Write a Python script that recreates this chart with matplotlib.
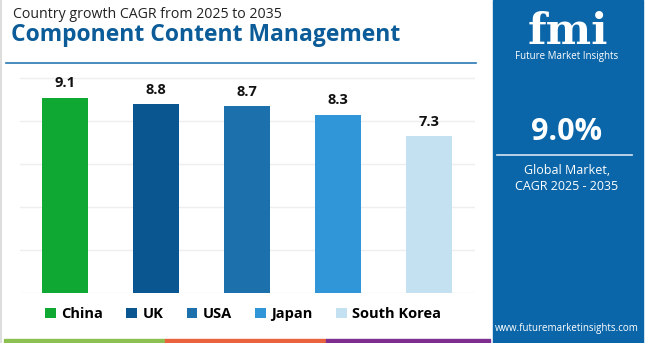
import matplotlib.pyplot as plt
from matplotlib.patches import Rectangle, Patch

countries = ['China', 'UK', 'USA', 'Japan', 'South Korea']
cagr = [9.1, 8.8, 8.7, 8.3, 7.3]
colors = ['#0fa833', '#0a5690', '#1c70ab', '#3196d7', '#c4e1f2']

W, H = 650, 343
fig = plt.figure(figsize=(W / 100, H / 100), dpi=100)
fig.patch.set_facecolor('white')


def fx(px):
    return px / W


def fy(py):
    return 1 - py / H


font = 'Open Sans'

# titles
fig.text(fx(13), fy(15), 'Country growth CAGR from 2025 to 2035', fontsize=10.2,
         color='#222222', family=font, va='center', ha='left')
fig.text(fx(11), fy(35), 'Component Content Management', fontsize=16.5, fontweight='bold',
         color='#0b5c98', family=font, va='center', ha='left')
fig.add_artist(plt.Line2D([fx(6), fx(476)], [fy(63), fy(63)], color='#2a78b5', lw=1.2))
fig.add_artist(plt.Line2D([fx(1), fx(1)], [0, 1], color='#dddddd', lw=1.5))

# bar chart
ax = fig.add_axes([fx(19.5), fy(293), fx(455), 10.5 * 21.46 / H])
x = list(range(len(countries)))
ax.bar(x, cagr, width=0.5, color=colors, zorder=3)
for xi, v in zip(x, cagr):
    ax.text(xi, v + 0.35, f'{v}', ha='center', va='bottom', fontsize=10.5,
            fontweight='bold', family=font, color='#111111')
ax.set_xlim(-0.5, 4.5)
ax.set_ylim(0, 10.5)
ax.set_yticks([0, 2, 4, 6, 8, 10])
ax.grid(axis='y', color='#eeeeee', lw=1, zorder=0)
ax.set_xticks([])
ax.tick_params(left=False, labelleft=False)
for s in ax.spines.values():
    s.set_visible(False)

# legend
handles = [Patch(facecolor=c, label=n) for c, n in zip(colors, countries)]
fig.legend(handles=handles, loc='center', bbox_to_anchor=(fx(243), fy(314)), ncol=5,
           frameon=False, handlelength=0.75, handleheight=0.75, handletextpad=0.35,
           columnspacing=1.6, prop={'family': font, 'weight': 'bold', 'size': 10.5})

# bottom stripes
for x0, x1, c in [(4, 165, '#8cc152'), (165, 326, '#e9643e'), (326, 490, '#7d2e8f')]:
    fig.add_artist(Rectangle((fx(x0), 0), fx(x1 - x0), 4 / H, color=c, transform=fig.transFigure))

# right panel
fig.add_artist(Rectangle((fx(493), 0), fx(150), 1, color='#0b66a9', transform=fig.transFigure))
fig.text(fx(568), fy(44), 'fmi', fontsize=31, fontweight='bold', color='white',
         family='DejaVu Serif', ha='center', va='baseline')
fig.text(fx(567), fy(57), 'Future Market Insights', fontsize=7, color='white',
         family=font, ha='center', va='center')
fig.text(fx(567), fy(132), '9.0%', fontsize=22, fontweight='bold', color='white',
         family=font, ha='center', va='center')
fig.add_artist(plt.Line2D([fx(497), fx(632)], [fy(155), fy(155)], color='#d8e6f2', lw=1.2))
fig.text(fx(567), fy(171), 'Global Market,', fontsize=9, color='white',
         family=font, ha='center', va='center')
fig.text(fx(567), fy(187), 'CAGR 2025 - 2035', fontsize=9, color='white',
         family=font, ha='center', va='center')
fig.text(fx(567), fy(328), 'www.futuremarketinsights.com', fontsize=7, color='white',
         family=font, ha='center', va='center')

fig.savefig('out.png', dpi=100)
